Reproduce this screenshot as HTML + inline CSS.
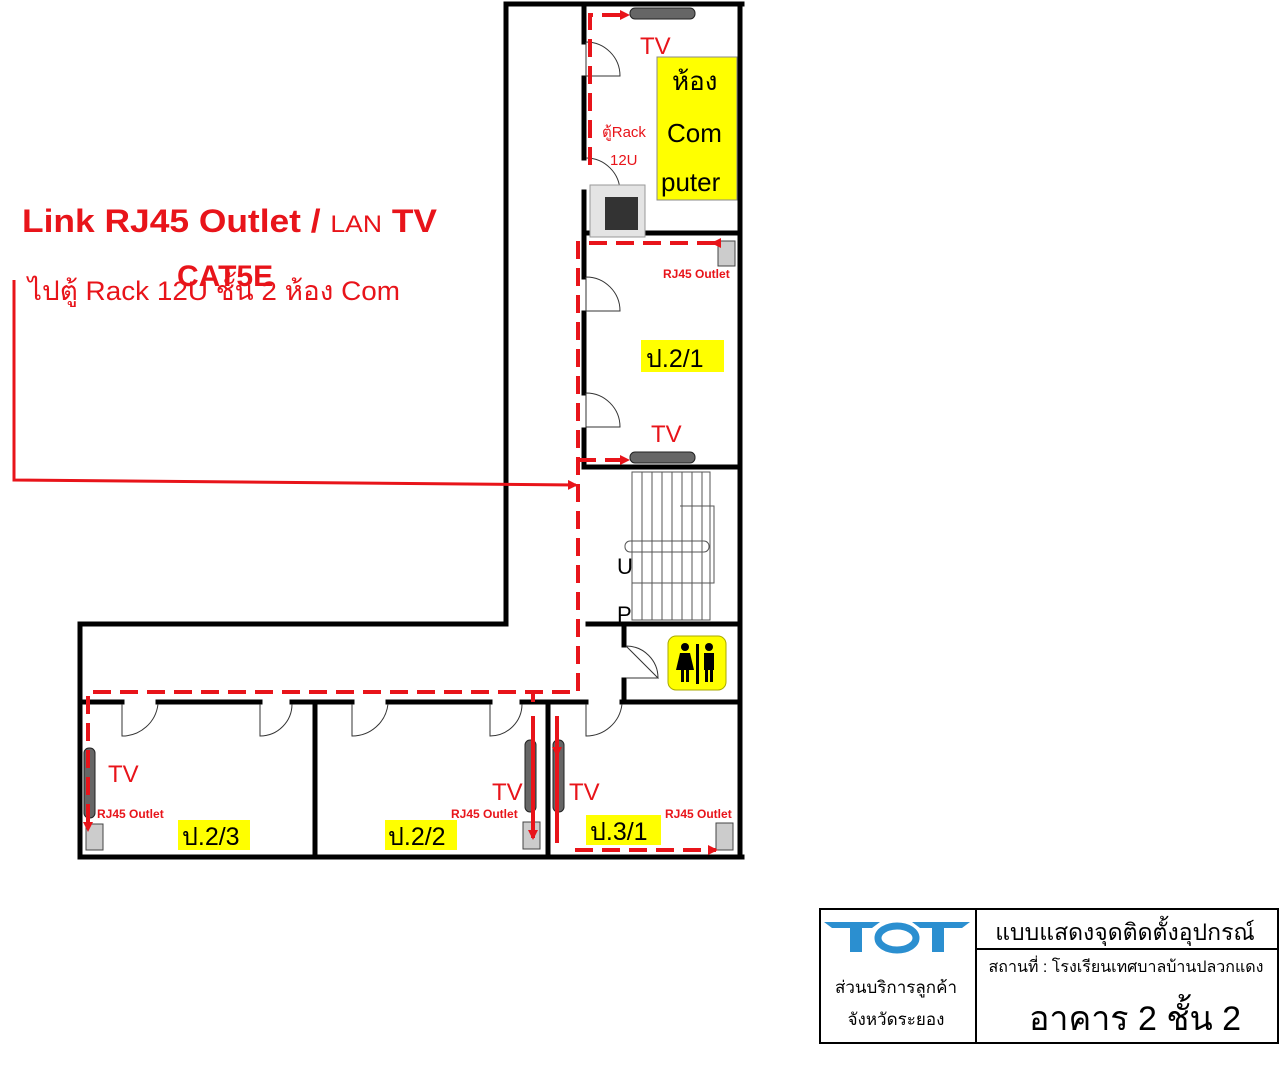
<!DOCTYPE html>
<html><head><meta charset="utf-8"><style>
body{margin:0;background:#fff;width:1280px;height:1083px;overflow:hidden}
svg{position:absolute;left:0;top:0}
text{font-family:"Liberation Sans","Noto Sans CJK SC",sans-serif}
</style></head><body>
<svg width="1280" height="1083" viewBox="0 0 1280 1083" xmlns="http://www.w3.org/2000/svg">
<defs>
<marker id="ar" markerWidth="10" markerHeight="10" refX="8" refY="5" orient="auto" markerUnits="userSpaceOnUse"><path d="M0,0 L10,5 L0,10z" fill="#e8141a"/></marker>
</defs>
<rect x="657" y="57" width="80" height="143" fill="#ffff00" stroke="#888" stroke-width="1"/>
<rect x="641" y="340" width="83" height="32" fill="#ffff00"/>
<rect x="668" y="636" width="58" height="54" rx="8" fill="#ffff00" stroke="#aa0" stroke-width="1"/>
<rect x="178" y="820" width="72" height="30" fill="#ffff00"/>
<rect x="385" y="820" width="72" height="30" fill="#ffff00"/>
<rect x="586" y="815" width="75" height="30" fill="#ffff00"/>
<!-- toilet figures -->
<g fill="#000">
<circle cx="685" cy="647" r="4"/><path d="M680,653 L690,653 L694,670 L676,670z"/><rect x="681" y="670" width="3" height="12"/><rect x="686" y="670" width="3" height="12"/>
<rect x="696" y="644" width="3" height="40"/>
<circle cx="709" cy="647" r="4"/><rect x="704" y="653" width="10" height="17"/><rect x="705" y="670" width="3" height="12"/><rect x="710" y="670" width="3" height="12"/>
</g>
<g stroke="#555" stroke-width="1" fill="none">
<rect x="632" y="472" width="78" height="148"/>
<line x1="642" y1="472" x2="642" y2="620"/><line x1="652" y1="472" x2="652" y2="620"/><line x1="662" y1="472" x2="662" y2="620"/><line x1="672" y1="472" x2="672" y2="620"/><line x1="682" y1="472" x2="682" y2="620"/><line x1="692" y1="472" x2="692" y2="620"/><line x1="702" y1="472" x2="702" y2="620"/>
<rect x="625" y="541" width="84" height="11" rx="5"/>
<polyline points="680,506 714,506 714,583 632,583"/>
</g>
<g stroke="#000" stroke-width="5" fill="none" stroke-linecap="square">
<line x1="506" y1="4" x2="742" y2="4"/>
<line x1="506" y1="4" x2="506" y2="624"/>
<line x1="740" y1="4" x2="740" y2="857"/>
<line x1="584" y1="4" x2="584" y2="42"/>
<line x1="584" y1="78" x2="584" y2="158"/>
<line x1="584" y1="192" x2="584" y2="277"/>
<line x1="584" y1="313" x2="584" y2="393"/>
<line x1="584" y1="430" x2="584" y2="467"/>
<line x1="584" y1="233" x2="740" y2="233"/>
<line x1="584" y1="467" x2="740" y2="467"/>
<line x1="80" y1="624" x2="506" y2="624"/>
<line x1="588" y1="624" x2="740" y2="624"/>
<line x1="80" y1="624" x2="80" y2="857"/>
<line x1="80" y1="857" x2="742" y2="857"/>
<line x1="624" y1="624" x2="624" y2="645"/>
<line x1="624" y1="680" x2="624" y2="700"/>
<line x1="80" y1="702" x2="122" y2="702"/>
<line x1="158" y1="702" x2="260" y2="702"/>
<line x1="292" y1="702" x2="352" y2="702"/>
<line x1="388" y1="702" x2="490" y2="702"/>
<line x1="522" y1="702" x2="586" y2="702"/>
<line x1="622" y1="702" x2="740" y2="702"/>
<line x1="315" y1="702" x2="315" y2="857"/>
<line x1="548" y1="702" x2="548" y2="857"/>
</g>
<g stroke="#333" stroke-width="1" fill="none">
<path d="M586,42 L586,76 L620,76 A34,34 0 0 0 586,42"/>
<path d="M586,158 A34,34 0 0 1 620,192"/>
<path d="M586,277 L586,311 L620,311 A34,34 0 0 0 586,277"/>
<path d="M586,393 L586,427 L620,427 A34,34 0 0 0 586,393"/>
<path d="M626,646 L658,678 L626,678 M626,646 A32,32 0 0 1 658,678"/>
<path d="M122,704 L122,736 A36,36 0 0 0 158,704"/>
<path d="M260,704 L260,736 A32,32 0 0 0 292,704"/>
<path d="M352,704 L352,736 A36,36 0 0 0 388,704"/>
<path d="M490,704 L490,736 A32,32 0 0 0 522,704"/>
<path d="M586,704 L586,736 A36,36 0 0 0 622,704"/>
</g>
<g fill="#666" stroke="#222" stroke-width="1">
<rect x="630" y="8" width="65" height="11" rx="5"/>
<rect x="630" y="452" width="65" height="11" rx="5"/>
<rect x="84" y="748" width="11" height="70" rx="5"/>
<rect x="525" y="740" width="11" height="72" rx="5"/>
<rect x="553" y="740" width="11" height="72" rx="5"/>
</g>
<g fill="#ccc" stroke="#444" stroke-width="1">
<rect x="718" y="241" width="17" height="25"/>
<rect x="86" y="824" width="17" height="26"/>
<rect x="523" y="822" width="17" height="27"/>
<rect x="716" y="823" width="17" height="27"/>
</g>
<rect x="590" y="185" width="55" height="52" fill="#e4e4e4" stroke="#999"/>
<rect x="605" y="197" width="33" height="33" fill="#333"/>
<g stroke="#e8141a" stroke-width="4" fill="none" stroke-dasharray="18,9">
<polyline points="590,165 590,15 628,15" marker-end="url(#ar)"/>
<polyline points="715,243 578,243 578,692 88,692 88,830" marker-end="url(#ar)"/>
<polyline points="578,460 628,460" marker-end="url(#ar)"/>
<polyline points="575,850 716,850" marker-end="url(#ar)"/>
</g>
<g stroke="#e8141a" stroke-width="4" fill="none">
<line x1="715" y1="243" x2="713" y2="243" marker-end="url(#ar)"/>
<polyline points="533,716 533,838" marker-end="url(#ar)"/>
<polyline points="557,716 557,755" marker-end="url(#ar)"/>
<line x1="557" y1="755" x2="557" y2="843"/>
<line x1="533" y1="692" x2="533" y2="702"/>
<polyline points="14,280 14,480 576,485" stroke-width="3" marker-end="url(#ar)"/>
</g>
<g fill="#e8141a">
<text x="22" y="232" font-size="32" font-weight="bold" textLength="415" lengthAdjust="spacingAndGlyphs">Link RJ45 Outlet / <tspan font-size="24" font-weight="normal">LAN</tspan> TV</text>
<text x="177" y="286" font-size="30" font-weight="bold">CAT5E</text>
<text x="28" y="300" font-size="27" textLength="372" lengthAdjust="spacingAndGlyphs">ไปตู้ Rack 12U ชั้น 2 ห้อง Com</text>
<text x="640" y="54" font-size="24">TV</text>
<text x="651" y="442" font-size="24">TV</text>
<text x="108" y="782" font-size="24">TV</text>
<text x="492" y="800" font-size="24">TV</text>
<text x="569" y="800" font-size="24">TV</text>
<text x="602" y="137" font-size="15">ตู้Rack</text>
<text x="610" y="165" font-size="15">12U</text>
<g font-size="12" font-weight="bold">
<text x="663" y="278">RJ45 Outlet</text>
<text x="97" y="818">RJ45 Outlet</text>
<text x="451" y="818">RJ45 Outlet</text>
<text x="665" y="818">RJ45 Outlet</text>
</g>
</g>
<g fill="#000">
<text x="672" y="90" font-size="26">ห้อง</text>
<text x="667" y="142" font-size="26">Com</text>
<text x="661" y="191" font-size="26">puter</text>
<text x="646" y="367" font-size="25">ป.2/1</text>
<text x="182" y="845" font-size="25">ป.2/3</text>
<text x="388" y="845" font-size="25">ป.2/2</text>
<text x="590" y="840" font-size="25">ป.3/1</text>
<text x="617" y="574" font-size="22">U</text>
<text x="617" y="622" font-size="22">P</text>
</g>
<rect x="820" y="909" width="458" height="134" fill="#fff" stroke="#000" stroke-width="2"/>
<line x1="976" y1="909" x2="976" y2="1043" stroke="#000" stroke-width="2"/>
<line x1="976" y1="949" x2="1278" y2="949" stroke="#000" stroke-width="2"/>
<g fill="#2b8fd0">
<path d="M824,922 L880,922 L872,928 L862,928 L862,952 L850,952 L850,928 L832,928z"/>
<path d="M912,922 L970,922 L962,928 L944,928 L944,952 L932,952 L932,928 L920,928z"/>
</g>
<ellipse cx="897" cy="938" rx="19" ry="12" fill="none" stroke="#2b8fd0" stroke-width="7"/>
<text x="1125" y="940" font-size="23" text-anchor="middle">แบบแสดงจุดติดตั้งอุปกรณ์</text>
<text x="1126" y="972" font-size="16" text-anchor="middle">สถานที่ : โรงเรียนเทศบาลบ้านปลวกแดง</text>
<text x="1135" y="1030" font-size="34" text-anchor="middle">อาคาร 2 ชั้น 2</text>
<text x="896" y="993" font-size="17" text-anchor="middle">ส่วนบริการลูกค้า</text>
<text x="896" y="1025" font-size="17" text-anchor="middle">จังหวัดระยอง</text>
</svg>
</body></html>
